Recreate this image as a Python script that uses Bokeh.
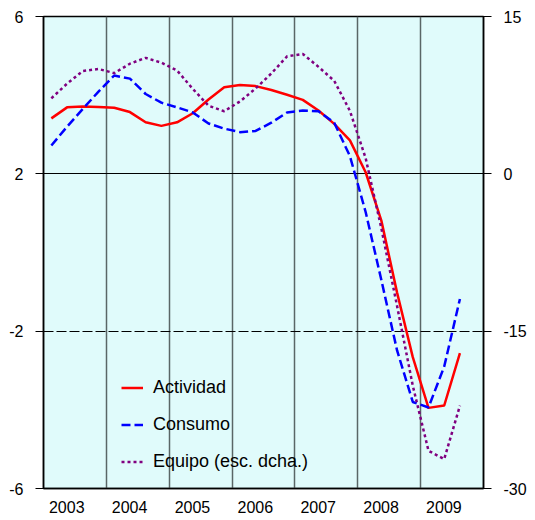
from bokeh.plotting import figure
from bokeh.models import LinearAxis, Range1d, FixedTicker, Grid, Legend, LegendItem, ColumnDataSource
from bokeh.embed import file_html
from bokeh.resources import INLINE

# Quarterly data 2003Q1 .. 2009Q3
years = [2003]*4 + [2004]*4 + [2005]*4 + [2006]*4 + [2007]*4 + [2008]*4 + [2009]*3
quarters = [1, 2, 3, 4]*6 + [1, 2, 3]

actividad = [3.41, 3.69, 3.71, 3.70, 3.68, 3.57, 3.31, 3.22, 3.31, 3.54,
             3.89, 4.20, 4.26, 4.23, 4.13, 4.01, 3.88, 3.61, 3.27, 2.85,
             2.04, 0.81, -1.02, -2.66, -3.95, -3.89, -2.56]
consumo = [2.72, 3.20, 3.65, 4.09, 4.50, 4.42, 4.03, 3.81, 3.69, 3.56,
           3.28, 3.15, 3.06, 3.09, 3.30, 3.56, 3.61, 3.59, 3.30, 2.45,
           1.03, -0.70, -2.49, -3.80, -3.94, -2.90, -1.18]
equipo = [7.2, 8.6, 9.8, 10.0, 9.6, 10.5, 11.06, 10.6, 9.85, 8.1,
          6.5, 5.97, 6.9, 8.14, 9.57, 11.2, 11.43, 10.2, 8.87, 6.0,
          1.5, -5.2, -12.6, -20.2, -26.4, -27.2, -22.1]

year_labels = ["2003", "2004", "2005", "2006", "2007", "2008", "2009"]
left_ticks = [-6, -2, 2, 6]
right_ticks = [-30, -15, 0, 15]

x = [y + (q - 0.5) / 4 for y, q in zip(years, quarters)]
src = ColumnDataSource(dict(x=x, act=actividad, con=consumo, equ=equipo))

FONT = "Liberation Sans"

p = figure(frame_width=440, frame_height=472,
           x_range=Range1d(2003, 2010), y_range=Range1d(-6, 6),
           output_backend="svg", toolbar_location=None,
           min_border_left=43, min_border_right=44, min_border_top=16, min_border_bottom=24,
           background_fill_color="#E0FBFB", border_fill_color="white",
           outline_line_color="black", outline_line_width=1.5)
p.extra_y_ranges = {"right": Range1d(-30, 15)}

def style_y(ax, ticks):
    ax.ticker = FixedTicker(ticks=ticks)
    ax.major_label_overrides = {t: str(t) for t in ticks}
    ax.minor_tick_line_color = None
    ax.major_tick_in = 0
    ax.major_tick_out = 8
    ax.major_label_standoff = 12
    ax.axis_line_color = "black"
    ax.axis_line_width = 1.5
    ax.major_label_text_font = FONT
    ax.major_label_text_font_size = "16px"
    ax.major_label_text_color = "black"

style_y(p.yaxis[0], left_ticks)
ra = LinearAxis(y_range_name="right")
style_y(ra, right_ticks)
p.add_layout(ra, "right")

# bottom axis: year labels (placed slightly left of each year's centre, as in the original)
xa = p.xaxis[0]
label_pos = [int(y) + 0.37 for y in year_labels]
xa.ticker = FixedTicker(ticks=label_pos)
xa.major_label_overrides = {c: lab for c, lab in zip(label_pos, year_labels)}
xa.major_tick_in = 0
xa.major_tick_out = 0
xa.minor_tick_line_color = None
xa.major_label_standoff = 12
xa.axis_line_color = "black"
xa.axis_line_width = 1.5
xa.major_label_text_font = FONT
xa.major_label_text_font_size = "16px"
xa.major_label_text_color = "black"

# grids
p.xgrid.ticker = FixedTicker(ticks=[int(y) for y in year_labels[1:]])
p.xgrid.grid_line_color = "#5a6666"
p.xgrid.grid_line_width = 1.5
p.ygrid.ticker = FixedTicker(ticks=[2])
p.ygrid.grid_line_color = "black"
p.ygrid.grid_line_width = 1
g2 = Grid(dimension=1, ticker=FixedTicker(ticks=[-2]), grid_line_color="black",
          grid_line_width=1, grid_line_dash="10 3")
p.add_layout(g2)

r1 = p.line("x", "act", source=src, line_color="#FF0000", line_width=2.5, line_join="round")
r2 = p.line("x", "con", source=src, line_color="#0000FF", line_width=2.5, line_dash="9 4")
r3 = p.line("x", "equ", source=src, line_color="#800080", line_width=2.5, line_dash="3 3",
            y_range_name="right")

legend = Legend(items=[LegendItem(label="Actividad", renderers=[r1]),
                       LegendItem(label="Consumo", renderers=[r2]),
                       LegendItem(label="Equipo (esc. dcha.)", renderers=[r3])],
                location=(78, 16), padding=0, margin=0, spacing=16,
                glyph_width=22, glyph_height=21, label_height=21, label_standoff=10,
                border_line_color=None, background_fill_alpha=0,
                label_text_font=FONT, label_text_font_size="18px", label_text_color="black")
p.add_layout(legend)

open("out.html", "w").write(file_html(p, INLINE))
